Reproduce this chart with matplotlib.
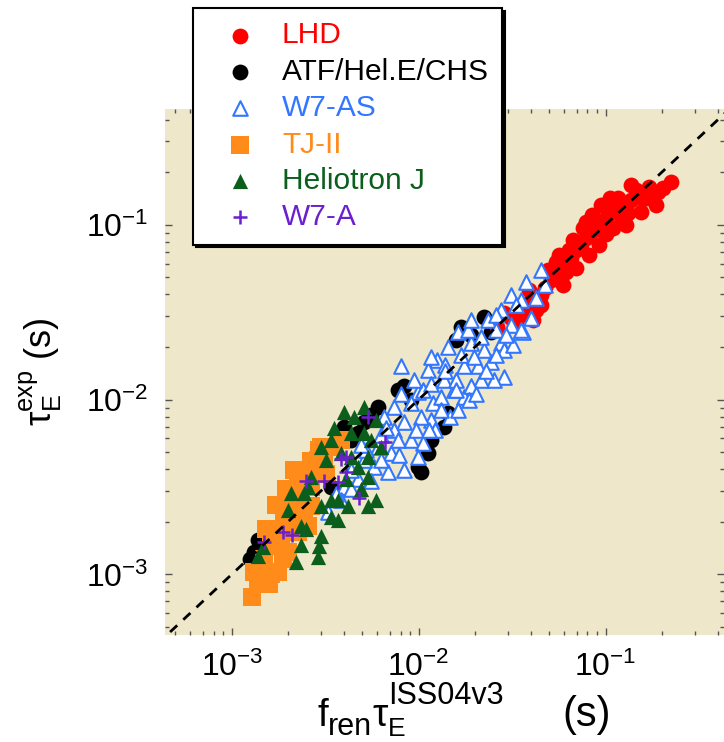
import matplotlib
matplotlib.use('Agg')
import matplotlib.pyplot as plt
from matplotlib.transforms import IdentityTransform

plt.rcParams['font.family'] = ['Liberation Sans', 'DejaVu Sans']
plt.rcParams['mathtext.fontset'] = 'custom'
plt.rcParams['mathtext.rm'] = 'Liberation Sans'
plt.rcParams['mathtext.it'] = 'Liberation Sans'
plt.rcParams['mathtext.bf'] = 'Liberation Sans:bold'
plt.rcParams['axes.unicode_minus'] = False

# LHD (red circles)
lhd_x = [0.0264, 0.0285, 0.0310, 0.0351, 0.0330, 0.0373, 0.0397, 0.0423, 0.0449, 0.0387,
         0.0477, 0.0508, 0.0495, 0.0541, 0.0574, 0.0611, 0.0561, 0.0650, 0.0691, 0.0735,
         0.0667, 0.0782, 0.0831, 0.0753, 0.0885, 0.0940, 0.0851, 0.100, 0.106, 0.0940,
         0.113, 0.120, 0.125, 0.131, 0.117, 0.136, 0.154, 0.164, 0.170, 0.178,
         0.190, 0.145, 0.128, 0.109, 0.0918, 0.0811, 0.0691, 0.0589, 0.0449, 0.0407,
         0.223, 0.204, 0.185, 0.154, 0.100, 0.0634, 0.0541, 0.106, 0.0782, 0.136]
lhd_y = [0.0261, 0.0314, 0.0294, 0.0306, 0.0268, 0.0349, 0.0373, 0.0327, 0.0398, 0.0425,
         0.0436, 0.0485, 0.0553, 0.0518, 0.0591, 0.0538, 0.0674, 0.0648, 0.0720, 0.0769,
         0.0820, 0.0843, 0.0911, 0.0961, 0.100, 0.0936, 0.114, 0.110, 0.119, 0.130,
         0.125, 0.114, 0.130, 0.117, 0.143, 0.139, 0.143, 0.143, 0.165, 0.148,
         0.154, 0.158, 0.100, 0.0961, 0.0769, 0.0674, 0.0568, 0.0454, 0.0349, 0.0286,
         0.176, 0.163, 0.130, 0.119, 0.0880, 0.0720, 0.0615, 0.143, 0.104, 0.169]

# ATF / Hel.E / CHS (black circles)
atf_x = [0.0168, 0.0223, 0.0243, 0.0190, 0.00832, 0.00773, 0.00604, 0.00508, 0.00472, 0.00397,
         0.00988, 0.0103, 0.0112, 0.0136, 0.0143, 0.00338, 0.00234, 0.00199, 0.00138, 0.00131,
         0.00148, 0.00433, 0.00906, 0.0158, 0.00126, 0.00281, 0.00553, 0.0116]
atf_y = [0.0261, 0.0298, 0.0242, 0.0235, 0.0119, 0.0114, 0.00912, 0.00740, 0.00648, 0.00701,
         0.00414, 0.00383, 0.00498, 0.00701, 0.00843, 0.00318, 0.00383, 0.00306, 0.00158, 0.00134,
         0.00117, 0.00591, 0.0100, 0.0220, 0.00122, 0.00485, 0.00820, 0.00591]

# W7-AS (open blue triangles)
w7as_x = [0.0080, 0.0162, 0.0234, 0.0310, 0.0360, 0.0285, 0.0252, 0.0215, 0.0174, 0.0148,
          0.0116, 0.00988, 0.0126, 0.0112, 0.0143, 0.0190, 0.0223, 0.0174, 0.0136, 0.0106,
          0.00906, 0.00734, 0.00650, 0.00832, 0.0103, 0.00734, 0.00906, 0.0106, 0.00988, 0.00832,
          0.00708, 0.00604, 0.00575, 0.00682, 0.00508, 0.00472, 0.00397, 0.00553, 0.00326, 0.00383,
          0.0120, 0.0162, 0.0116, 0.0215, 0.0275, 0.0190, 0.0154, 0.0131, 0.0285, 0.0243,
          0.0207, 0.0310, 0.0373, 0.0423, 0.0477, 0.0351, 0.0275, 0.0449, 0.0330,
          0.0168, 0.0139, 0.0094, 0.0197, 0.0158, 0.0123, 0.00773, 0.00626, 0.0258, 0.0183,
          0.00433, 0.00521, 0.00626, 0.00782, 0.00964, 0.0113, 0.0131, 0.0185, 0.0202, 0.0228,
          0.0258, 0.0318, 0.0351, 0.0292, 0.0158, 0.0139, 0.0116, 0.0080, 0.00666, 0.00489,
          0.00360, 0.00433, 0.0190, 0.0258, 0.0397]
w7as_y = [0.0155, 0.0245, 0.0286, 0.0268, 0.0242, 0.0135, 0.0130, 0.0130, 0.0104, 0.0080,
          0.00769, 0.0110, 0.0169, 0.0148, 0.0201, 0.0212, 0.0193, 0.0155, 0.0130, 0.0114,
          0.00962, 0.00912, 0.0080, 0.00740, 0.0080, 0.00674, 0.00591, 0.00568, 0.00472, 0.00398,
          0.00498, 0.00538, 0.00414, 0.00383, 0.00454, 0.00349, 0.00318, 0.00340, 0.00226, 0.00268,
          0.00962, 0.00877, 0.0176, 0.0229, 0.0212, 0.0119, 0.0114, 0.0104, 0.0193, 0.0163,
          0.0155, 0.0398, 0.0472, 0.0383, 0.0454, 0.0373, 0.0327, 0.0553, 0.0349,
          0.0181, 0.0158, 0.0130, 0.0176, 0.0130, 0.00674, 0.00591, 0.00630, 0.0251, 0.0251,
          0.00398, 0.00518, 0.00454, 0.00485, 0.00674, 0.00674, 0.00877, 0.0100, 0.0107, 0.0145,
          0.0181, 0.0206, 0.0251, 0.0235, 0.0114, 0.0145, 0.0122, 0.0107, 0.00692, 0.00553,
          0.00287, 0.00306, 0.0286, 0.0306, 0.0294]

# TJ-II (orange squares)
tj2_x = [0.00129, 0.00131, 0.00148, 0.00176, 0.00148, 0.00162, 0.00183, 0.00168, 0.00190, 0.00207,
         0.00225, 0.00243, 0.00265, 0.00275, 0.00310, 0.00351, 0.00383, 0.00225, 0.00265, 0.00199,
         0.00225, 0.00255, 0.00172, 0.00195, 0.00265, 0.00299, 0.00318, 0.00158, 0.00139, 0.00207,
         0.00152, 0.00187, 0.00234, 0.00215, 0.00292, 0.00162]
tj2_y = [0.00074, 0.00103, 0.00097, 0.00103, 0.00122, 0.00145, 0.00158, 0.00181, 0.00206, 0.00245,
         0.00279, 0.00226, 0.00318, 0.00398, 0.00454, 0.00538, 0.00591, 0.00349, 0.00245, 0.00134,
         0.00174, 0.00188, 0.00251, 0.00306, 0.00443, 0.00538, 0.00373, 0.00088, 0.00088, 0.00193,
         0.00181, 0.00122, 0.00251, 0.00398, 0.00518, 0.00100]

# Heliotron J (green triangles)
hj_x = [0.00508, 0.00449, 0.00351, 0.00338, 0.00299, 0.00508, 0.00553, 0.00433, 0.00383, 0.00433,
        0.00534, 0.00472, 0.00534, 0.00265, 0.00255, 0.00243, 0.00299, 0.00338, 0.00369, 0.00417,
        0.00534, 0.00489, 0.00338, 0.00369, 0.00199, 0.00234, 0.00249, 0.00299, 0.00292, 0.00220,
        0.00288, 0.00138, 0.00207, 0.00397, 0.00589, 0.00626, 0.00318, 0.00407, 0.00589, 0.00147,
        0.00234]
hj_y = [0.00912, 0.0080, 0.00692, 0.00591, 0.00538, 0.00648, 0.00591, 0.00648, 0.00498, 0.00472,
        0.00472, 0.00414, 0.00363, 0.00363, 0.00318, 0.00294, 0.00245, 0.00268, 0.00268, 0.00245,
        0.00245, 0.00306, 0.00214, 0.00206, 0.00235, 0.00188, 0.00181, 0.00165, 0.00145, 0.00117,
        0.00125, 0.00127, 0.00294, 0.00853, 0.00769, 0.00538, 0.00454, 0.00349, 0.00268, 0.00143,
        0.00148]

# W7-A (purple plus)
w7a_x = [0.00534, 0.00658, 0.00383, 0.00407, 0.00249, 0.00310, 0.00369, 0.00407, 0.00478, 0.00187,
         0.00209, 0.00148]
w7a_y = [0.0080, 0.00575, 0.00460, 0.00472, 0.00340, 0.00340, 0.00336, 0.00383, 0.00275, 0.00174,
         0.00169, 0.00154]

names = ['LHD', 'ATF/Hel.E/CHS', 'W7-AS', 'TJ-II', 'Heliotron J', 'W7-A']
colors = ['#ff0000', 'black', '#3377ff', '#ff8c1a', '#0b5e1c', '#6a1fd0']

fig = plt.figure(figsize=(7.24, 7.42), dpi=100)
ax = fig.add_axes([0.228, 0.1442, 0.772, 0.709])
ax.set_facecolor('#eee7c9')

ax.scatter(lhd_x, lhd_y, s=130, marker='o', color=colors[0], linewidths=0, label=names[0], zorder=3)
ax.scatter(atf_x, atf_y, s=130, marker='o', color=colors[1], linewidths=0, label=names[1], zorder=2)
ax.scatter(w7as_x, w7as_y, s=110, marker='^', facecolor='white', edgecolor=colors[2], linewidths=1.5,
           label=names[2], zorder=4)
ax.scatter(tj2_x, tj2_y, s=150, marker='s', color=colors[3], linewidths=0, label=names[3], zorder=5)
ax.scatter(hj_x, hj_y, s=120, marker='^', color=colors[4], linewidths=0, label=names[4], zorder=6)
ax.scatter(w7a_x, w7a_y, s=90, marker='+', color=colors[5], linewidths=1.8, label=names[5], zorder=7)

ax.set_xscale('log')
ax.set_yscale('log')
ax.set_xlim(4.4e-4, 0.43)
ax.set_ylim(4.5e-4, 0.46)
ax.plot([1e-4, 1], [1e-4, 1], ls=(0, (3.5, 3)), color='black', lw=2, zorder=8)

for s in ax.spines.values():
    s.set_visible(False)
ax.tick_params(which='both', direction='in', top=True, right=True, color='#555555', width=1)
ax.tick_params(which='major', length=5, labelsize=23, pad=12)
ax.tick_params(which='minor', length=3)

ax.set_ylabel(r'$\mathregular{\tau_E^{exp}}$ (s)', fontsize=26)
ax.yaxis.set_label_coords(-0.18, 0.5)

# x label built from pieces so sub/superscripts can be larger than mathtext allows
renderer = fig.canvas.get_renderer()
H = 742


def piece(x, base, txt, size):
    t = fig.text(x, H - base, txt, fontsize=size, ha='left', va='baseline', transform=IdentityTransform())
    return t.get_window_extent(renderer).x1


x = piece(317, 726, 'f', 28)
x = piece(x, 735, 'ren', 22)
x = piece(x + 1, 726, 'τ', 28)
piece(x, 736, 'E', 19)
piece(x, 704, 'ISS04v3', 22)
piece(562, 726, '(s)', 30)

leg = ax.legend(loc='upper left', bbox_to_anchor=(193 / 724, 1 - 8 / 742), bbox_transform=fig.transFigure,
                borderaxespad=0, fontsize=21.5, frameon=True, fancybox=False,
                shadow={'color': 'black', 'alpha': 1},
                labelspacing=0.28, handletextpad=0.28, borderpad=0.45, handlelength=2.25, scatterpoints=1)
leg.get_frame().set_edgecolor('black')
leg.get_frame().set_linewidth(1.5)
leg.set_zorder(20)
for txt, c in zip(leg.get_texts(), colors):
    txt.set_color(c)

fig.savefig('out.png', dpi=100)
